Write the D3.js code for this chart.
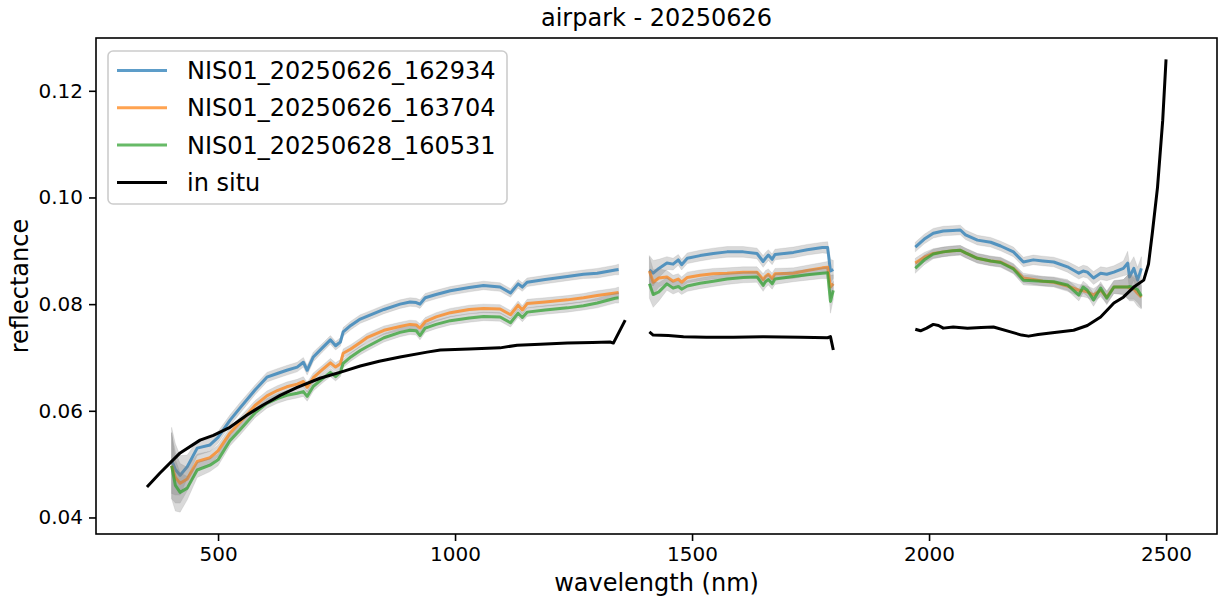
<!DOCTYPE html>
<html lang="en">
<head>
  <meta charset="UTF-8">
  <title>airpark - 20250626</title>
</head>
<body>
<style>
  * {
    padding: 0;
    margin: 0;
  }

  body {
    background: #fff;
  }

  #app {
    width: 1221px;
    height: 604px;
  }

  #app svg {
    font-family: "DejaVu Sans", sans-serif;
  }
</style>

<div id="app"></div>

<script src="https://cdn.jsdelivr.net/npm/d3@7"></script>
<script>
  // wavelengths of the airborne spectra, null value = masked absorption band
  var specWl = [
    402, 410, 420, 435, 456, 483, 500, 525, 546, 578, 603, 625, 645, 667, 680, 688, 701, 720, 737, 748,
    758, 764, 780, 800, 814, 850, 884, 905, 918, 926, 937, 960, 990, 1030, 1060, 1095, 1117, 1133, 1142, 1152,
    1190, 1237, 1271, 1300, 1338, 1345,
    1380,
    1410, 1418, 1430, 1447, 1460, 1471, 1478, 1490, 1517, 1545, 1574, 1608, 1637, 1650, 1655, 1661, 1669, 1675,
    1714, 1743, 1775, 1786, 1792, 1798,
    1880,
    1971, 1990, 2009, 2030, 2050, 2066, 2077, 2102, 2130, 2151, 2178, 2199, 2220, 2240, 2263, 2292, 2316, 2325,
    2334, 2347, 2362, 2375, 2390, 2410, 2419, 2423, 2432, 2440, 2448
  ];

  var blue = [
    0.0507, 0.0490, 0.0479, 0.0495, 0.0530, 0.0536, 0.0550, 0.0582, 0.0605, 0.0639, 0.0663, 0.0670, 0.0676, 0.0682, 0.0691, 0.0676, 0.0701, 0.0718, 0.0733, 0.0722,
    0.0729, 0.0748, 0.0760, 0.0772, 0.0777, 0.0790, 0.0800, 0.0804, 0.0803, 0.0800, 0.0812, 0.0818, 0.0825, 0.0831, 0.0835, 0.0832, 0.0821, 0.0838, 0.0832, 0.0841,
    0.0846, 0.0852, 0.0856, 0.0858, 0.0864, 0.0865,
    null,
    0.0864, 0.0858, 0.0867, 0.0877, 0.0875, 0.0883, 0.0874, 0.0886, 0.0891, 0.0895, 0.0898, 0.0898, 0.0895, 0.0880, 0.0886, 0.0892, 0.0884, 0.0893,
    0.0897, 0.0902, 0.0906, 0.0906, 0.0862, 0.0865,
    null,
    0.0907, 0.0922, 0.0933, 0.0937, 0.0938, 0.0939, 0.0930, 0.0920, 0.0916, 0.0909, 0.0898, 0.0879, 0.0883, 0.0881, 0.0879, 0.0870, 0.0858, 0.0862,
    0.0860, 0.0849, 0.0858, 0.0856, 0.0860, 0.0867, 0.0877, 0.0851, 0.0867, 0.0845, 0.0867
  ];

  var orange = [
    0.0497, 0.0475, 0.0464, 0.0472, 0.0505, 0.0512, 0.0525, 0.0558, 0.0578, 0.0610, 0.0628, 0.0638, 0.0645, 0.0650, 0.0655, 0.0644, 0.0662, 0.0677, 0.0690, 0.0682,
    0.0688, 0.0708, 0.0716, 0.0728, 0.0737, 0.0751, 0.0758, 0.0762, 0.0761, 0.0755, 0.0767, 0.0776, 0.0784, 0.0790, 0.0792, 0.0791, 0.0780, 0.0798, 0.0789, 0.0801,
    0.0804, 0.0808, 0.0812, 0.0816, 0.0821, 0.0822,
    null,
    0.0862, 0.0841, 0.0849, 0.0851, 0.0843, 0.0847, 0.0841, 0.0850, 0.0854, 0.0857, 0.0858, 0.0860, 0.0860, 0.0846, 0.0852, 0.0856, 0.0848, 0.0857,
    0.0858, 0.0863, 0.0868, 0.0869, 0.0832, 0.0838,
    null,
    0.0877, 0.0888, 0.0895, 0.0898, 0.0900, 0.0901, 0.0896, 0.0886, 0.0881, 0.0879, 0.0867, 0.0849, 0.0846, 0.0843, 0.0841, 0.0834, 0.0826, 0.0825,
    0.0823, 0.0817, 0.0826, 0.0813, 0.0832, 0.0832, 0.0832, 0.0830, 0.0828, 0.0820, 0.0813
  ];

  var green = [
    0.0497, 0.0460, 0.0447, 0.0455, 0.0489, 0.0498, 0.0508, 0.0544, 0.0564, 0.0596, 0.0614, 0.0623, 0.0629, 0.0633, 0.0636, 0.0627, 0.0646, 0.0660, 0.0672, 0.0664,
    0.0672, 0.0689, 0.0701, 0.0713, 0.0720, 0.0737, 0.0747, 0.0751, 0.0750, 0.0741, 0.0755, 0.0762, 0.0769, 0.0774, 0.0777, 0.0776, 0.0765, 0.0783, 0.0775, 0.0785,
    0.0789, 0.0793, 0.0797, 0.0802, 0.0811, 0.0812,
    null,
    0.0838, 0.0818, 0.0823, 0.0838, 0.0830, 0.0833, 0.0828, 0.0834, 0.0839, 0.0843, 0.0847, 0.0850, 0.0851, 0.0835, 0.0842, 0.0846, 0.0838, 0.0847,
    0.0852, 0.0855, 0.0858, 0.0859, 0.0805, 0.0826,
    null,
    0.0867, 0.0883, 0.0894, 0.0898, 0.0900, 0.0901, 0.0896, 0.0886, 0.0881, 0.0878, 0.0866, 0.0845, 0.0844, 0.0843, 0.0842, 0.0836, 0.0817, 0.0832,
    0.0826, 0.0808, 0.0830, 0.0811, 0.0832, 0.0832, 0.0832, 0.0833, 0.0831, 0.0827, 0.0815
  ];

  // half width of the grey spread band (same grid as specWl)
  var spread = [
    0.0062, 0.0048, 0.0037, 0.0022, 0.0014, 0.0012, 0.0011, 0.0010, 0.0010, 0.0009, 0.0009, 0.0009, 0.0009, 0.0009, 0.0009, 0.0009, 0.0009, 0.0008, 0.0008, 0.0008,
    0.0008, 0.0008, 0.0008, 0.0008, 0.0008, 0.0008, 0.0008, 0.0008, 0.0008, 0.0008, 0.0008, 0.0008, 0.0008, 0.0008, 0.0008, 0.0008, 0.0008, 0.0008, 0.0008, 0.0008,
    0.0008, 0.0008, 0.0008, 0.0009, 0.0009, 0.0010,
    null,
    0.0027, 0.0024, 0.0017, 0.0012, 0.0011, 0.0010, 0.0010, 0.0010, 0.0010, 0.0010, 0.0010, 0.0010, 0.0010, 0.0011, 0.0011, 0.0010, 0.0010, 0.0010,
    0.0010, 0.0010, 0.0010, 0.0011, 0.0022, 0.0017,
    null,
    0.0009, 0.0009, 0.0009, 0.0009, 0.0009, 0.0009, 0.0009, 0.0009, 0.0009, 0.0009, 0.0009, 0.0009, 0.0009, 0.0009, 0.0009, 0.0010, 0.0011, 0.0011,
    0.0011, 0.0012, 0.0012, 0.0012, 0.0012, 0.0014, 0.0022, 0.0024, 0.0022, 0.0024, 0.0022
  ];

  var insituWl = [
    350, 377, 420, 462, 490, 525, 561, 595, 631, 667, 715, 764, 800, 840, 884, 941, 969, 1030, 1095, 1131,
    1180, 1237, 1290, 1327, 1334, 1359,
    1385,
    1410, 1418, 1450, 1482, 1530, 1587, 1650, 1729, 1786, 1792, 1798,
    1880,
    1971, 1982, 1995, 2009, 2020, 2030, 2051, 2081, 2110, 2136, 2172, 2195, 2210, 2230, 2256, 2305, 2334, 2362,
    2390, 2410, 2432, 2453, 2463, 2471, 2482, 2493, 2500
  ];

  var insitu = [
    0.0457, 0.0483, 0.0521, 0.0545, 0.0554, 0.0569, 0.0592, 0.0611, 0.0629, 0.0644, 0.0661, 0.0674, 0.0684, 0.0693, 0.0701, 0.0710, 0.0714, 0.0716, 0.0718, 0.0723,
    0.0725, 0.0727, 0.0728, 0.0729, 0.0727, 0.0770,
    null,
    0.0748, 0.0742, 0.0741, 0.0739, 0.0738, 0.0738, 0.0739, 0.0738, 0.0737, 0.0739, 0.0714,
    null,
    0.0753, 0.0750, 0.0755, 0.0762, 0.0760, 0.0755, 0.0757, 0.0755, 0.0756, 0.0757, 0.0748, 0.0742, 0.0740, 0.0743, 0.0746, 0.0751, 0.0760, 0.0776,
    0.0802, 0.0813, 0.0832, 0.0845, 0.0875, 0.0933, 0.1019, 0.1145, 0.1259
  ];

  var seriesNames = ["NIS01_20250626_162934", "NIS01_20250626_163704", "NIS01_20250628_160531", "in situ"];
  var seriesColors = ["#1f77b4", "#ff7f0e", "#2ca02c", "#000000"];
  var xTicks = [500, 1000, 1500, 2000, 2500];
  var yTicks = [0.04, 0.06, 0.08, 0.10, 0.12];

  function drawChart() {
    var width = 1221, height = 604,
      margin = {left: 96, right: 4, top: 38, bottom: 70},
      svg = d3.select('#app').append('svg').attr('width', width).attr('height', height)

    // fixed limits (matplotlib adds 5% padding)
    var x = d3.scaleLinear().domain([242.5, 2607.5]).range([margin.left, width - margin.right])
    var y = d3.scaleLinear().domain([0.0369, 0.1299]).range([height - margin.bottom, margin.top])

    var plot = svg.append('g')
    var bandGen = d3.area()
      .defined(d => d.v != null)
      .x(d => x(d.w)).y0(d => y(d.v - d.s)).y1(d => y(d.v + d.s))
    var lineGen = d3.line()
      .defined(d => d.v != null)
      .x(d => x(d.w)).y(d => y(d.v))

    var spectra = [blue, orange, green]
    spectra.forEach(function (vals, k) {
      var pts = specWl.map((w, i) => ({w: w, v: vals[i], s: spread[i]}))
      plot.append('path')
        .attr('d', bandGen(pts))
        .attr('fill', 'grey').attr('fill-opacity', 0.3)
        .attr('stroke', 'grey').attr('stroke-opacity', 0.15).attr('stroke-width', 1)
      plot.append('path')
        .attr('d', lineGen(pts))
        .attr('fill', 'none')
        .attr('stroke', seriesColors[k]).attr('stroke-opacity', 0.72)
        .attr('stroke-width', 3).attr('stroke-linejoin', 'round')
    })

    var insituPts = insituWl.map((w, i) => ({w: w, v: insitu[i]}))
    plot.append('path')
      .attr('d', lineGen(insituPts))
      .attr('fill', 'none')
      .attr('stroke', '#000').attr('stroke-width', 3).attr('stroke-linejoin', 'round')

    // axes
    var xAxis = svg.append('g')
      .attr('transform', 'translate(0,' + (height - margin.bottom) + ')')
      .call(d3.axisBottom(x).tickValues(xTicks).tickFormat(d3.format('d')).tickSizeOuter(0).tickSize(7).tickPadding(6))
    var yAxis = svg.append('g')
      .attr('transform', 'translate(' + margin.left + ',0)')
      .call(d3.axisLeft(y).tickValues(yTicks).tickFormat(d3.format('.2f')).tickSizeOuter(0).tickSize(7).tickPadding(6))
    ;[xAxis, yAxis].forEach(function (a) {
      a.select('.domain').remove()
      a.selectAll('.tick line').attr('stroke', '#000').attr('stroke-width', 1.6)
      a.selectAll('.tick text').attr('font-size', 20).attr('fill', '#000')
        .attr('font-family', '"DejaVu Sans", sans-serif')
    })

    svg.append('rect')
      .attr('x', margin.left).attr('y', margin.top)
      .attr('width', width - margin.right - margin.left)
      .attr('height', height - margin.bottom - margin.top)
      .attr('fill', 'none').attr('stroke', '#000').attr('stroke-width', 1.6)

    // labels
    var cx = (margin.left + width - margin.right) / 2
    svg.append('text').attr('x', cx).attr('y', 26)
      .attr('text-anchor', 'middle').attr('font-size', 24).text('airpark - 20250626')
    svg.append('text').attr('x', cx).attr('y', 591)
      .attr('text-anchor', 'middle').attr('font-size', 24).text('wavelength (nm)')
    svg.append('text')
      .attr('transform', 'translate(28,' + ((margin.top + height - margin.bottom) / 2) + ') rotate(-90)')
      .attr('text-anchor', 'middle').attr('font-size', 24).text('reflectance')

    // legend
    var legend = svg.append('g').attr('transform', 'translate(108,51)')
    legend.append('rect')
      .attr('width', 399).attr('height', 153).attr('rx', 5)
      .attr('fill', '#fff').attr('fill-opacity', 0.8)
      .attr('stroke', '#ccc').attr('stroke-width', 1.6)
    seriesNames.forEach(function (name, i) {
      var row = legend.append('g').attr('transform', 'translate(0,' + (19.5 + i * 37.3) + ')')
      row.append('line')
        .attr('x1', 9).attr('x2', 59)
        .attr('stroke', seriesColors[i]).attr('stroke-opacity', i < 3 ? 0.72 : 1)
        .attr('stroke-width', 3)
      row.append('text').attr('x', 79).attr('y', 8.5)
        .attr('font-size', 24).text(name)
    })
  }

  drawChart()
</script>

</body>
</html>
